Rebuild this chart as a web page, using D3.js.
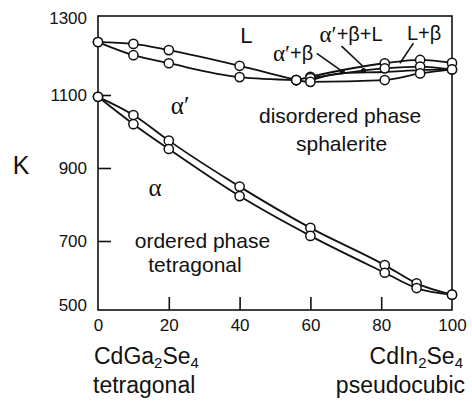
<!DOCTYPE html>
<html>
<head>
<meta charset="utf-8">
<script src="https://cdn.jsdelivr.net/npm/d3@7"></script>
<style>
  body { margin: 0; background: #fff; }
  svg text { font-family: "Liberation Sans", Arial, sans-serif; fill: #111; }
</style>
</head>
<body>
<div id="chart"></div>
<script>
// composition (mol % CdIn2Se4) and temperatures (K)
const xLeft = [0, 10, 20, 40, 56];
const liquidusLeft = [1245, 1240, 1223, 1180, 1141];
const solidusLeft = [1245, 1209, 1187, 1149, 1141];

const xRightUp = [56, 60, 81, 91, 100];
const liquidusRight = [1141, 1150, 1187, 1196, 1188];
const xRightMid = [60, 81, 91, 100];
const solidusRight = [1146, 1173, 1178, 1170];
const xRightLow = [56, 60, 81, 91, 100];
const lowerRight = [1141, 1136, 1141, 1159, 1170];
const xInner = [60, 69, 81, 91, 100];
const innerRight = [1140, 1160, 1163, 1168, 1170];
const markerX = [69, 75];
const markerT = [1164, 1167];

const xAlpha = [0, 10, 20, 40, 60, 81, 90, 100];
const alphaUpper = [1095, 1045, 975, 849, 736, 634, 584, 553];
const alphaLower = [1095, 1020, 952, 823, 714, 613, 571, 553];

const xTicks = [0, 20, 40, 60, 80, 100];
const yTicks = [500, 700, 900, 1100, 1300];

const W = 472, H = 401;
const plot = { left: 98, right: 452, top: 16, bottom: 310 };

const svg = d3.select("#chart").append("svg")
  .attr("width", W).attr("height", H);

const x = d3.scaleLinear().domain([0, 100]).range([plot.left, plot.right]);
const y = d3.scaleLinear().domain([500, 1300]).range([314, 22]);

//------frame
svg.append("rect")
  .attr("x", plot.left).attr("y", plot.top)
  .attr("width", plot.right - plot.left).attr("height", plot.bottom - plot.top)
  .attr("fill", "none").attr("stroke", "#111").attr("stroke-width", 1.6);

//------axes
const yAxis = svg.append("g")
  .attr("transform", `translate(${plot.left},0)`)
  .call(d3.axisLeft(y).tickValues(yTicks).tickFormat(d3.format("d")).tickSize(-13).tickPadding(11));
yAxis.select(".domain").remove();
yAxis.selectAll(".tick line")
  .attr("stroke", "#111").attr("stroke-width", 1.6)
  .attr("display", d => (d === 500 || d === 1300) ? "none" : null);
yAxis.selectAll(".tick text")
  .style("font-size", "17px")
  .attr("dy", d => d === 500 ? "-0.2em" : d === 1300 ? "0.1em" : "0.32em");

const xAxis = svg.append("g")
  .attr("transform", `translate(0,${plot.bottom})`)
  .call(d3.axisBottom(x).tickValues(xTicks).tickFormat(d3.format("d")).tickSize(-13).tickPadding(9));
xAxis.select(".domain").remove();
xAxis.selectAll(".tick line")
  .attr("stroke", "#111").attr("stroke-width", 1.6)
  .attr("display", d => (d === 0 || d === 100) ? "none" : null);
xAxis.selectAll(".tick text").style("font-size", "17px");

svg.append("text")
  .attr("x", 21).attr("y", 165)
  .attr("text-anchor", "middle").attr("dominant-baseline", "central")
  .style("font-size", "25px")
  .text("K");

//------curves
const series = [
  [xLeft, liquidusLeft], [xLeft, solidusLeft],
  [xRightUp, liquidusRight], [xRightMid, solidusRight],
  [xRightLow, lowerRight], [xInner, innerRight],
  [xAlpha, alphaUpper], [xAlpha, alphaLower]
];
const line = d3.line()
  .x(d => x(d[0])).y(d => y(d[1]))
  .curve(d3.curveMonotoneX);

const curves = svg.append("g");
series.forEach(([xs, ts]) => {
  const pts = xs.map((v, j) => [v, ts[j]]);
  curves.append("path")
    .attr("d", line(pts))
    .attr("fill", "none").attr("stroke", "#111").attr("stroke-width", 1.8);
});

//------filled markers on the inner line
curves.selectAll(".mark")
  .data(markerX.map((v, j) => [v, markerT[j]]))
  .enter().append("circle")
  .attr("class", "mark")
  .attr("cx", d => x(d[0])).attr("cy", d => y(d[1]))
  .attr("r", 2.6).attr("fill", "#111");

//------open circles (inner line carries no circles)
series.forEach(([xs, ts]) => {
  if (xs === xInner) return;
  curves.selectAll(null)
    .data(xs.map((v, j) => [v, ts[j]]))
    .enter().append("circle")
    .attr("cx", d => x(d[0])).attr("cy", d => y(d[1]))
    .attr("r", 4.6)
    .attr("fill", "#fff").attr("stroke", "#111").attr("stroke-width", 1.5);
});

//------leader lines of the small regions
const leaders = [
  [[61.8, 1214], [68.4, 1169]],
  [[68.8, 1234], [74.9, 1178]],
  [[89.1, 1242], [85.3, 1187]]
];
svg.append("g").selectAll("line")
  .data(leaders).enter().append("line")
  .attr("x1", d => x(d[0][0])).attr("y1", d => y(d[0][1]))
  .attr("x2", d => x(d[1][0])).attr("y2", d => y(d[1][1]))
  .attr("stroke", "#111").attr("stroke-width", 1.6);

//------region labels
function label(px, pt, parts, size) {
  const t = svg.append("text")
    .attr("x", x(px)).attr("y", y(pt))
    .attr("text-anchor", "middle").attr("dominant-baseline", "central")
    .style("font-size", size + "px");
  parts.forEach(p => {
    const s = t.append("tspan").text(p[0]);
    if (p[1] === "serif") s.style("font-family", "'Liberation Serif', 'Times New Roman', serif").style("font-size", (size + 3) + "px");
  });
}
label(41.9, 1264, [["L"]], 22);
label(55.1, 1215, [["α′", "serif"], ["+β"]], 20);
label(71.5, 1267, [["α′", "serif"], ["+β+L"]], 20);
label(92.1, 1270, [["L+β"]], 20);
label(23.2, 1073, [["α′", "serif"]], 22);
label(16.1, 848, [["α", "serif"]], 22);
label(68.4, 1045, [["disordered phase"]], 21);
label(68.8, 968, [["sphalerite"]], 21);
label(29.5, 703, [["ordered phase"]], 21);
label(27.4, 637, [["tetragonal"]], 21);

//------compound names under the axis
function compound(xpos, ypos, anchor, parts) {
  const t = svg.append("text")
    .attr("x", xpos).attr("y", ypos)
    .attr("text-anchor", anchor)
    .style("font-size", "23px");
  parts.forEach((p, i) => {
    const s = t.append("tspan").text(p);
    if (/^\d$/.test(p)) s.style("font-size", "15px").attr("dy", "4");
    else if (i > 0) s.attr("dy", "-4");
  });
}
compound(94, 364, "start", ["CdGa", "2", "Se", "4"]);
compound(463, 364, "end", ["CdIn", "2", "Se", "4"]);
svg.append("text").attr("x", 93).attr("y", 393)
  .style("font-size", "23px").text("tetragonal");
svg.append("text").attr("x", 465).attr("y", 393)
  .attr("text-anchor", "end")
  .style("font-size", "23px").text("pseudocubic");
</script>
</body>
</html>
